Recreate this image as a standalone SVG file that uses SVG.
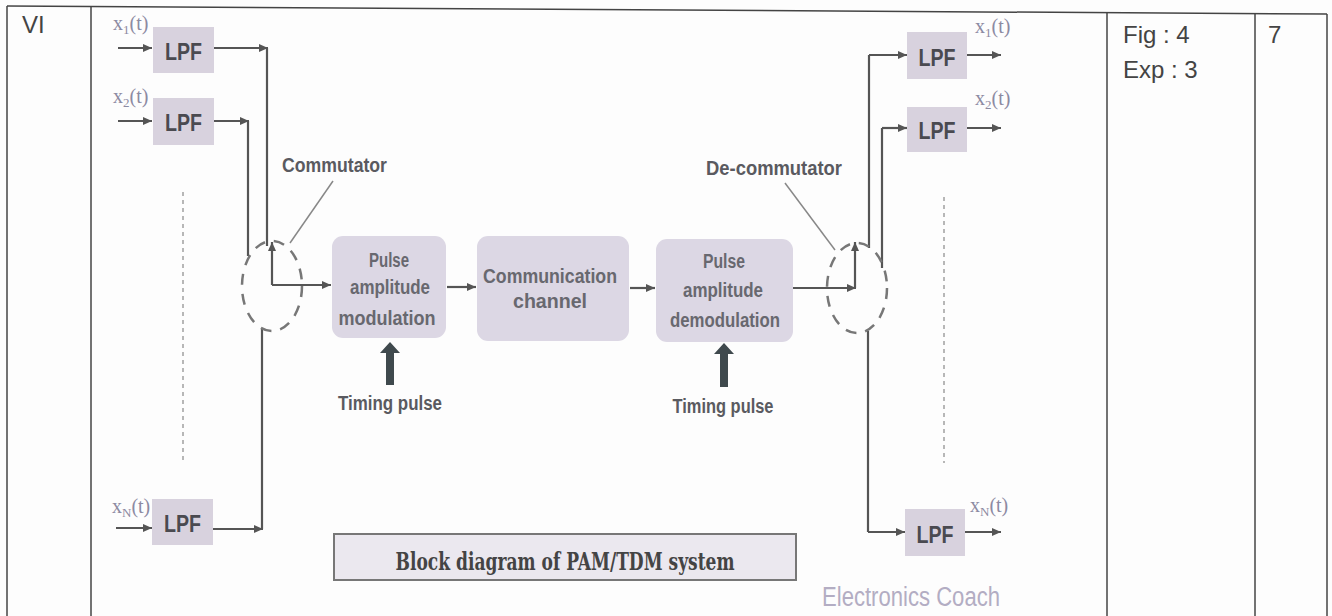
<svg xmlns="http://www.w3.org/2000/svg" width="1332" height="616" viewBox="0 0 1332 616">
<defs>
<marker id="arr" markerUnits="userSpaceOnUse" markerWidth="10" markerHeight="8" refX="9" refY="4" orient="auto">
<path d="M0,0 L9,4 L0,8 z" fill="#555"/>
</marker>
<style>
.tbl{stroke:#444;stroke-width:1.5;fill:none}
.cell{font-family:"Liberation Sans",Arial,sans-serif;font-size:24px;fill:#444}
.lpf{fill:#d8d2de}
.lpft{font-family:"Liberation Sans",Arial,sans-serif;font-weight:bold;font-size:24px;fill:#4a4a50;text-anchor:middle}
.blk{fill:#dcd7e4}
.blkt{font-family:"Liberation Sans",Arial,sans-serif;font-weight:bold;font-size:20px;fill:#68686f;text-anchor:middle}
.sig{font-family:"Liberation Serif","Times New Roman",serif;font-size:20px;fill:#8c8aa2}
.sub{font-size:13px}
.lbl{font-family:"Liberation Sans",Arial,sans-serif;font-weight:bold;font-size:20px;fill:#5a5a60}
.wire{stroke:#555;stroke-width:2.2;fill:none}
.lead{stroke:#888;stroke-width:1.5;fill:none}
.ring{stroke:#777;stroke-width:2.5;fill:none;stroke-dasharray:11 9}
.dots{stroke:#a0a0a0;stroke-width:1.5;fill:none;stroke-dasharray:4 4}
.thick{fill:#3f494d}
</style>
</defs>
<rect x="0" y="0" width="1332" height="616" fill="#fdfdfd"/>

<g id="table">
<line class="tbl" x1="7" y1="6" x2="1327" y2="14"/>
<line class="tbl" x1="7" y1="6" x2="7" y2="616"/>
<line class="tbl" x1="91" y1="6.5" x2="91" y2="616"/>
<line class="tbl" x1="1107" y1="13" x2="1107" y2="616"/>
<line class="tbl" x1="1255" y1="14" x2="1255" y2="616"/>
<line class="tbl" x1="1327" y1="14" x2="1327" y2="616"/>
<text class="cell" x="22" y="33">VI</text>
<text class="cell" x="1123" y="43">Fig : 4</text>
<text class="cell" x="1123" y="78">Exp : 3</text>
<text class="cell" x="1268" y="43">7</text>
</g>

<g id="connectors">
<line class="wire" x1="118" y1="48" x2="152" y2="48" marker-end="url(#arr)"/>
<line class="wire" x1="118" y1="121" x2="152" y2="121" marker-end="url(#arr)"/>
<line class="wire" x1="116" y1="528" x2="152" y2="528" marker-end="url(#arr)"/>
<line class="wire" x1="214" y1="48" x2="268" y2="48" marker-end="url(#arr)"/>
<line class="wire" x1="267" y1="48" x2="267" y2="246"/>
<line class="wire" x1="214" y1="121" x2="249" y2="121" marker-end="url(#arr)"/>
<line class="wire" x1="248" y1="121" x2="248" y2="256"/>
<line class="wire" x1="213" y1="529" x2="263" y2="529" marker-end="url(#arr)"/>
<line class="wire" x1="262" y1="529" x2="262" y2="329"/>
<line class="wire" x1="272" y1="285" x2="272" y2="242" marker-end="url(#arr)"/>
<line class="wire" x1="272" y1="285" x2="331" y2="285" marker-end="url(#arr)"/>
<line class="wire" x1="447" y1="287" x2="476" y2="287" marker-end="url(#arr)"/>
<line class="wire" x1="630" y1="288" x2="655" y2="288" marker-end="url(#arr)"/>
<line class="wire" x1="793" y1="288" x2="856" y2="288" marker-end="url(#arr)"/>
<line class="wire" x1="855" y1="288" x2="855" y2="242" marker-end="url(#arr)"/>
<line class="wire" x1="869" y1="248" x2="869" y2="55"/>
<line class="wire" x1="869" y1="55" x2="907" y2="55" marker-end="url(#arr)"/>
<line class="wire" x1="882" y1="268" x2="882" y2="128"/>
<line class="wire" x1="882" y1="128" x2="907" y2="128" marker-end="url(#arr)"/>
<line class="wire" x1="868" y1="331" x2="868" y2="532"/>
<line class="wire" x1="868" y1="532" x2="905" y2="532" marker-end="url(#arr)"/>
<line class="wire" x1="967" y1="55" x2="1001" y2="55" marker-end="url(#arr)"/>
<line class="wire" x1="967" y1="128" x2="1001" y2="128" marker-end="url(#arr)"/>
<line class="wire" x1="965" y1="532" x2="1001" y2="532" marker-end="url(#arr)"/>
<path class="thick" d="M386,385 L386,353 L380,353 L390,342 L400,353 L394,353 L394,385 z"/>
<path class="thick" d="M720,387 L720,354 L714,354 L724,343 L734,354 L728,354 L728,387 z"/>
<line class="lead" x1="333" y1="181" x2="290" y2="243"/>
<line class="lead" x1="785" y1="183" x2="835" y2="250"/>
</g>

<g id="lpf-in-1">
<rect class="lpf" x="153" y="27" width="61" height="46"/>
<text class="lpft" x="183.5" y="60" textLength="37" lengthAdjust="spacingAndGlyphs">LPF</text>
<text class="sig" x="113" y="30">x<tspan class="sub" dy="4">1</tspan><tspan dy="-4">(t)</tspan></text>
</g>
<g id="lpf-in-2">
<rect class="lpf" x="153" y="98" width="61" height="47"/>
<text class="lpft" x="183.5" y="131" textLength="37" lengthAdjust="spacingAndGlyphs">LPF</text>
<text class="sig" x="113" y="103">x<tspan class="sub" dy="4">2</tspan><tspan dy="-4">(t)</tspan></text>
</g>
<g id="lpf-in-n">
<rect class="lpf" x="152" y="499" width="61" height="46"/>
<text class="lpft" x="182.5" y="532" textLength="37" lengthAdjust="spacingAndGlyphs">LPF</text>
<text class="sig" x="112" y="513">x<tspan class="sub" dy="4">N</tspan><tspan dy="-4">(t)</tspan></text>
</g>
<line class="dots" x1="183" y1="192" x2="183" y2="462"/>

<g id="commutator">
<ellipse class="ring" cx="272" cy="286" rx="30" ry="45"/>
<text class="lbl" x="282" y="172" textLength="105" lengthAdjust="spacingAndGlyphs">Commutator</text>
</g>

<g id="pam">
<rect class="blk" x="332" y="236" width="114" height="102" rx="11"/>
<text class="blkt" x="389" y="267" textLength="40" lengthAdjust="spacingAndGlyphs">Pulse</text>
<text class="blkt" x="390" y="294" textLength="80" lengthAdjust="spacingAndGlyphs">amplitude</text>
<text class="blkt" x="387" y="325" textLength="97" lengthAdjust="spacingAndGlyphs">modulation</text>
</g>

<g id="timing-1">
<text class="lbl" x="390" y="410" text-anchor="middle" textLength="104" lengthAdjust="spacingAndGlyphs">Timing pulse</text>
</g>

<g id="channel">
<rect class="blk" x="477" y="236" width="152" height="105" rx="11"/>
<text class="blkt" x="550" y="283" textLength="134" lengthAdjust="spacingAndGlyphs">Communication</text>
<text class="blkt" x="550" y="308" textLength="74" lengthAdjust="spacingAndGlyphs">channel</text>
</g>

<g id="demod">
<rect class="blk" x="656" y="239" width="137" height="103" rx="11"/>
<text class="blkt" x="724" y="268" textLength="42" lengthAdjust="spacingAndGlyphs">Pulse</text>
<text class="blkt" x="723" y="297" textLength="80" lengthAdjust="spacingAndGlyphs">amplitude</text>
<text class="blkt" x="725" y="327" textLength="110" lengthAdjust="spacingAndGlyphs">demodulation</text>
</g>

<g id="timing-2">
<text class="lbl" x="723" y="413" text-anchor="middle" textLength="101" lengthAdjust="spacingAndGlyphs">Timing pulse</text>
</g>

<g id="decommutator">
<ellipse class="ring" cx="857" cy="288" rx="30" ry="45"/>
<text class="lbl" x="706" y="175" textLength="136" lengthAdjust="spacingAndGlyphs">De-commutator</text>
</g>

<g id="lpf-out-1">
<rect class="lpf" x="907" y="32" width="60" height="47"/>
<text class="lpft" x="937" y="66" textLength="37" lengthAdjust="spacingAndGlyphs">LPF</text>
<text class="sig" x="975" y="33">x<tspan class="sub" dy="4">1</tspan><tspan dy="-4">(t)</tspan></text>
</g>
<g id="lpf-out-2">
<rect class="lpf" x="907" y="107" width="60" height="45"/>
<text class="lpft" x="937" y="139" textLength="37" lengthAdjust="spacingAndGlyphs">LPF</text>
<text class="sig" x="975" y="105">x<tspan class="sub" dy="4">2</tspan><tspan dy="-4">(t)</tspan></text>
</g>
<g id="lpf-out-n">
<rect class="lpf" x="905" y="509" width="60" height="47"/>
<text class="lpft" x="935" y="543" textLength="37" lengthAdjust="spacingAndGlyphs">LPF</text>
<text class="sig" x="970" y="512">x<tspan class="sub" dy="4">N</tspan><tspan dy="-4">(t)</tspan></text>
</g>
<line class="dots" x1="944" y1="197" x2="944" y2="463"/>

<g id="caption">
<rect x="334" y="534" width="462" height="46" fill="#ebe8ef" stroke="#777" stroke-width="2"/>
<text x="565" y="570" text-anchor="middle" font-family="'DejaVu Serif','Liberation Serif',serif" font-size="25" font-weight="bold" fill="#444" textLength="339" lengthAdjust="spacingAndGlyphs">Block diagram of PAM/TDM system</text>
</g>

<text x="822" y="606" font-family="'Liberation Sans',Arial,sans-serif" font-size="27" fill="#b3adc3" textLength="178" lengthAdjust="spacingAndGlyphs">Electronics Coach</text>
</svg>
